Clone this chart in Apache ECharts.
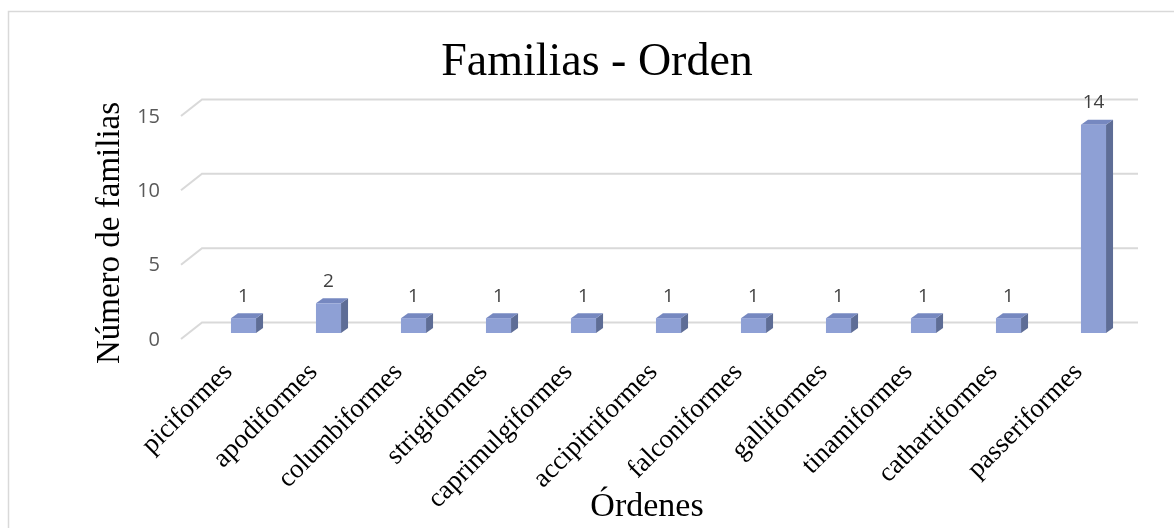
<!DOCTYPE html>
<html>
<head>
<meta charset="utf-8">
<script src="https://cdn.jsdelivr.net/npm/echarts@6/dist/echarts.min.js"></script>
<style>
html,body{margin:0;padding:0;background:#fff;}
#chart{width:1174px;height:528px;}
</style>
</head>
<body>
<div id="chart"></div>
<script>
const categories = ['piciformes','apodiformes','columbiformes','strigiformes','caprimulgiformes','accipitriformes','falconiformes','galliformes','tinamiformes','cathartiformes','passeriformes'];
const values = [1,2,1,1,1,1,1,1,1,1,14];
const yTicks = [0,5,10,15];
const titleText = 'Familias - Orden';
const xName = 'Órdenes';
const yName = 'Número de familias';

const DX = 7, DY = -5; // bar depth offset (style)
const FRONT = '#8EA0D5', SIDE = '#5E6D96', TOPC = '#7688C0';

const chart = echarts.init(document.getElementById('chart'));

const option = {
  backgroundColor: '#fff',
  animation: false,
  graphic: [
    {type:'rect', shape:{x:8.5, y:11.5, width:1200, height:600}, style:{fill:null, stroke:'#D9D9D9', lineWidth:1.5}, silent:true, z:-10},
    {type:'text', x:597, y:63, style:{text:titleText, font:'46px "Liberation Serif"', fill:'#000', textAlign:'center', textVerticalAlign:'middle'}},
    {type:'text', x:647, y:507, style:{text:xName, font:'34px "Liberation Serif"', fill:'#000', textAlign:'center', textVerticalAlign:'middle'}},
    {type:'text', x:110, y:233, rotation:Math.PI/2, style:{text:yName, font:'33px "Liberation Serif"', fill:'#000', textAlign:'center', textVerticalAlign:'middle'}}
  ],
  grid: [
    {left:201, right:38, top:110, bottom:195},
    {left:186, right:53, top:117, bottom:188}
  ],
  xAxis: [
    {type:'category', data:categories, gridIndex:0, axisLine:{show:false}, axisTick:{show:false}, axisLabel:{show:false}},
    {type:'category', data:categories, gridIndex:1, axisLine:{show:false}, axisTick:{show:false},
     axisLabel:{rotate:45, margin:28, interval:0, fontFamily:'Liberation Serif', fontSize:27, color:'#000'}}
  ],
  yAxis: [
    {type:'value', gridIndex:0, min:0, max:15, interval:5, show:false, splitLine:{show:false}},
    {type:'value', gridIndex:1, min:0, max:15, interval:5, splitLine:{show:false}, axisLine:{show:false}, axisTick:{show:false},
     axisLabel:{margin:26, fontFamily:'Open Sans', fontSize:20, color:'#595959'}}
  ],
  series: [
    {
      type:'custom', xAxisIndex:0, yAxisIndex:0, z:1, silent:true,
      data: yTicks.map(v => [0, v]),
      renderItem: function(params, api){
        const cs = params.coordSys;
        const y = api.coord([0, api.value(1)])[1];
        const yb = y - 10.5, yf = y + 6;
        return {
          type:'polyline',
          shape:{points:[[cs.x - 20, yf],[cs.x + 1, yb],[cs.x + cs.width + 2, yb]]},
          style:{stroke:'#D9D9D9', lineWidth:2, fill:null}
        };
      }
    },
    {
      type:'custom', xAxisIndex:0, yAxisIndex:0, z:2,
      data: values.map((v,i) => [i, v]),
      renderItem: function(params, api){
        const base = api.coord([api.value(0), 0]);
        const top = api.coord([api.value(0), api.value(1)]);
        const w = api.size([1,0])[0] * 0.295;
        const x0 = base[0] - w/2, x1 = base[0] + w/2;
        const yt = top[1], yb = base[1];
        return {
          type:'group',
          children:[
            {type:'polygon', shape:{points:[[x1,yt],[x1+DX,yt+DY],[x1+DX,yb+DY],[x1,yb]]}, style:{fill:SIDE}},
            {type:'polygon', shape:{points:[[x0,yt],[x0+DX,yt+DY],[x1+DX,yt+DY],[x1,yt]]}, style:{fill:TOPC}},
            {type:'rect', shape:{x:x0, y:yt, width:w, height:yb-yt}, style:{fill:FRONT}},
            {type:'text', x:base[0], y:yt-22, style:{text:String(api.value(1)), font:'19px "Open Sans"', fill:'#404040', textAlign:'center', textVerticalAlign:'middle'}}
          ]
        };
      }
    }
  ]
};
chart.setOption(option);
</script>
</body>
</html>
